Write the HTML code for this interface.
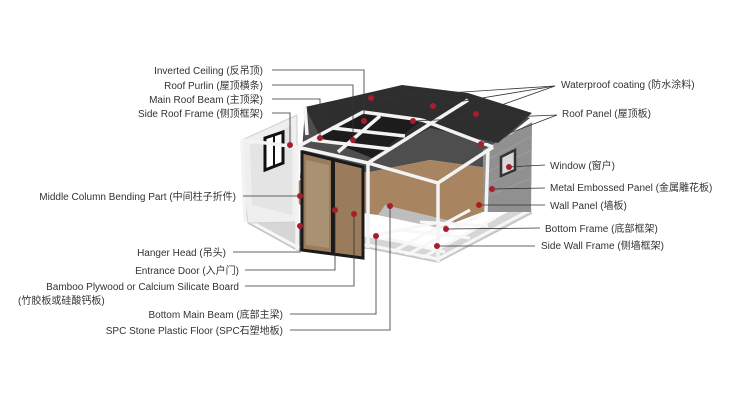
<!DOCTYPE html>
<html><head><meta charset="utf-8"><style>
body{margin:0;background:#fff;}
svg{display:block;}
text{font-family:"Liberation Sans","Noto Sans CJK SC",sans-serif;font-size:10px;fill:#333;}
</style></head><body>
<svg width="750" height="400" viewBox="0 0 750 400" xmlns="http://www.w3.org/2000/svg">
<!-- back interior -->
<polygon points="305,110 405,88 470,96 530,118 490,150 488,168 430,160 370,172 300,178" fill="#4e4e4e"/>
<!-- wood floor -->
<polygon points="288,188 300,180 370,172 430,160 488,168 488,210 440,228 378,215 300,205" fill="#a88460"/>
<polygon points="378,215 440,228 455,222 385,205" fill="#bdbdbd"/>
<!-- base grid -->
<polygon points="245,200 248,223 297,250 368,248 438,262 532,213 530,200 438,250 372,238 300,225" fill="#d6d6d6"/>
<g stroke="#f7f7f7" stroke-width="3" fill="none">
<polyline points="248,220 297,247 368,245 438,259 530,210"/>
<line x1="255" y1="200" x2="297" y2="216"/>
<line x1="262" y1="192" x2="297" y2="204"/>
<line x1="265" y1="208" x2="275" y2="190"/>
<line x1="280" y1="216" x2="285" y2="188"/>
<line x1="392" y1="252" x2="470" y2="210"/>
<line x1="405" y1="256" x2="482" y2="214"/>
<line x1="420" y1="259" x2="495" y2="218"/>
<line x1="385" y1="238" x2="445" y2="252"/>
<line x1="400" y1="230" x2="470" y2="238"/>
<line x1="420" y1="222" x2="488" y2="226"/>
<line x1="372" y1="236" x2="440" y2="222"/>
</g>
<polyline points="248,223 297,250 368,248 438,262 532,213" stroke="#c4c4c4" stroke-width="1.5" fill="none"/>
<!-- left wall -->
<polygon points="242,140 297,115 297,222 248,223 245,200" fill="#efefef" stroke="#cfcfcf"/>
<polygon points="250,145 292,125 292,215 252,205" fill="#e4e4e4"/>
<polygon points="265,138 283,132 283,163 265,170" fill="#fff" stroke="#111" stroke-width="3"/>
<line x1="274" y1="135" x2="274" y2="166" stroke="#111" stroke-width="2"/>
<!-- right wall -->
<polygon points="483,150 532,122 531,212 483,212" fill="#909090"/>
<g stroke="#a6a6a6" stroke-width="0.6">
<line x1="483" y1="162" x2="532" y2="136"/><line x1="483" y1="174" x2="532" y2="150"/><line x1="483" y1="186" x2="532" y2="164"/><line x1="483" y1="198" x2="532" y2="178"/>
</g>
<polygon points="501,157 515,150 515,170 501,176" fill="#d8d8d8" stroke="#333" stroke-width="2.5"/>
<!-- roof -->
<polygon points="305,107 350,97 402,85 468,93 532,113 498,143 430,128 372,158 320,137" fill="#2e2e2e"/>
<polygon points="320,137 363,112 422,120 372,158" fill="#1c1c1c"/>
<!-- frame -->
<g stroke="#f3f3f3" stroke-width="3.5" fill="none">
<polyline points="242,140 297,147 368,163 438,183 493,147"/>
<polyline points="297,147 363,112 422,120"/>
<line x1="368" y1="163" x2="468" y2="100"/>
<line x1="338" y1="152" x2="380" y2="116"/>
<line x1="312" y1="140" x2="390" y2="149"/>
<line x1="332" y1="128" x2="405" y2="136"/>
<line x1="422" y1="120" x2="493" y2="147"/>
<line x1="297" y1="147" x2="297" y2="250"/>
<line x1="368" y1="163" x2="368" y2="248"/>
<line x1="438" y1="183" x2="438" y2="262"/>
<line x1="488" y1="150" x2="486" y2="212"/>
<line x1="242" y1="140" x2="245" y2="222"/>
<line x1="305" y1="107" x2="307" y2="135"/>
</g>
<!-- door -->
<polygon points="302,152 363,167 363,258 302,250" fill="#9a7c5c" stroke="#1a1a1a" stroke-width="3"/>
<line x1="333" y1="159" x2="333" y2="254" stroke="#1a1a1a" stroke-width="4"/>
<polygon points="306,160 329,165 329,248 306,245" fill="#b8a68c" opacity="0.5"/>
<!-- lines -->
<g stroke="#333" stroke-width="0.8" fill="none">
<polyline points="272,70 364,70 364,121"/>
<polyline points="272,85 353,85 353,140"/>
<polyline points="272,99 320,99 320,138"/>
<polyline points="272,113 290,113 290,145"/>
<polyline points="243,196 300,196"/>
<polyline points="233,252 300,252 300,226"/>
<polyline points="245,270 335,270 335,210"/>
<polyline points="245,286 354,286 354,214"/>
<polyline points="290,314 376,314 376,236"/>
<polyline points="290,330 390,330 390,206"/>
<polyline points="555,86 371,98"/><polyline points="555,86 433,106"/><polyline points="555,86 476,114"/>
<polyline points="557,115 413,121"/><polyline points="557,115 481,144"/>
<polyline points="545,165 509,167"/>
<polyline points="545,188 492,189"/>
<polyline points="545,205 479,205"/>
<polyline points="540,228 446,229"/>
<polyline points="535,246 437,246"/>
</g>
<g fill="#a3202a">
<circle cx="364" cy="121" r="3"/><circle cx="353" cy="140" r="3"/><circle cx="320" cy="138" r="3"/><circle cx="290" cy="145" r="3"/>
<circle cx="300" cy="196" r="3"/><circle cx="300" cy="226" r="3"/><circle cx="335" cy="210" r="3"/><circle cx="354" cy="214" r="3"/>
<circle cx="376" cy="236" r="3"/><circle cx="390" cy="206" r="3"/>
<circle cx="371" cy="98" r="3"/><circle cx="433" cy="106" r="3"/><circle cx="476" cy="114" r="3"/><circle cx="413" cy="121" r="3"/><circle cx="481" cy="144" r="3"/>
<circle cx="509" cy="167" r="3"/><circle cx="492" cy="189" r="3"/><circle cx="479" cy="205" r="3"/><circle cx="446" cy="229" r="3"/><circle cx="437" cy="246" r="3"/>
</g>
<g text-anchor="end">
<text x="263" y="74">Inverted Ceiling (反吊顶)</text>
<text x="263" y="89">Roof Purlin (屋顶横条)</text>
<text x="263" y="103">Main Roof Beam (主顶梁)</text>
<text x="263" y="117">Side Roof Frame (侧顶框架)</text>
<text x="236" y="200">Middle Column Bending Part (中间柱子折件)</text>
<text x="226" y="256">Hanger Head (吊头)</text>
<text x="239" y="274">Entrance Door (入户门)</text>
<text x="239" y="290">Bamboo Plywood or Calcium Silicate Board</text>
<text x="283" y="318">Bottom Main Beam (底部主梁)</text>
<text x="283" y="334">SPC Stone Plastic Floor (SPC石塑地板)</text>
</g>
<text x="18" y="304">(竹胶板或硅酸钙板)</text>
<text x="561" y="88">Waterproof coating (防水涂料)</text>
<text x="562" y="117">Roof Panel (屋顶板)</text>
<text x="550" y="169">Window (窗户)</text>
<text x="550" y="191">Metal Embossed Panel (金属雕花板)</text>
<text x="550" y="209">Wall Panel (墙板)</text>
<text x="545" y="232">Bottom Frame (底部框架)</text>
<text x="541" y="249">Side Wall Frame (侧墙框架)</text>
</svg>
</body></html>
